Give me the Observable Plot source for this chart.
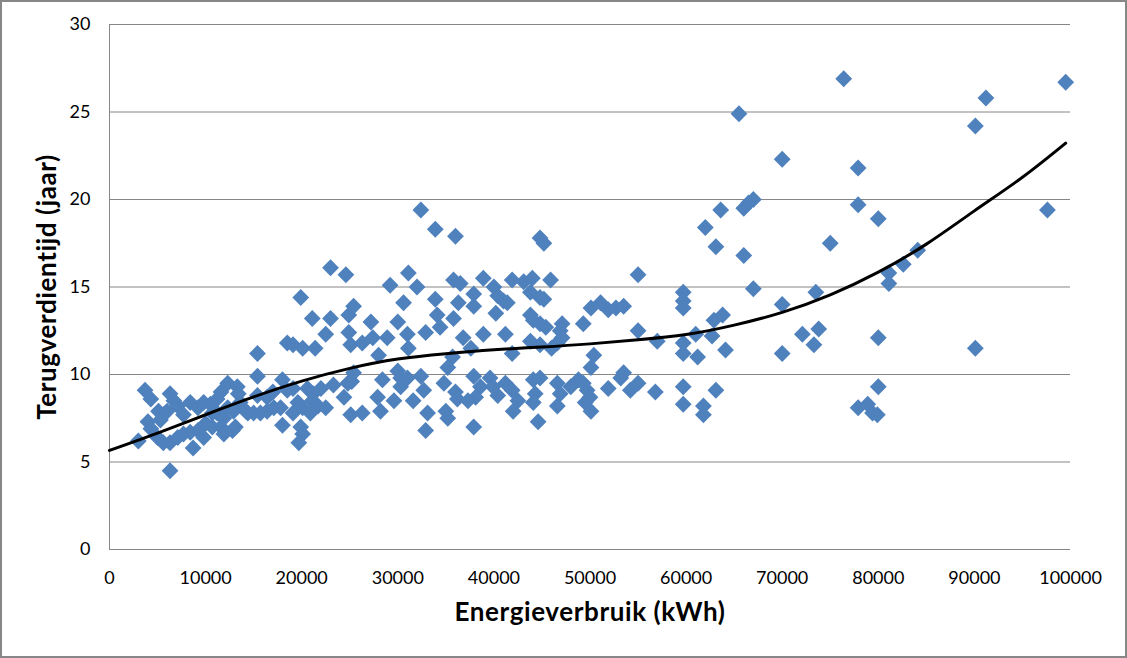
<!DOCTYPE html>
<html><head><meta charset="utf-8">
<script src="https://cdn.jsdelivr.net/npm/d3@7"></script>
<script src="https://cdn.jsdelivr.net/npm/@observablehq/plot@0.6"></script>
<style>
html,body{margin:0;padding:0;background:#fff;overflow:hidden}
#wrap{position:relative;width:1127px;height:658px}
#border{position:absolute;left:0;top:0;width:1127px;height:658px;box-sizing:border-box;border:2px solid #878787;pointer-events:none}
</style></head><body><div id="wrap"><div id="chart"></div><div id="border"></div></div>
<script>
const energy = [
3000,3700,4300,4000,4300,5100,5600,5300,6000,6300,6700,5000,5600,6300,7100,6300,7100,7700,7700,8400,8400,9200,9200,8700,9800,9800,10000,
10500,10700,10700,11200,11600,11200,11900,11600,11900,12300,12300,12900,12800,13100,13300,13400,13600,14200,14400,15000,15400,15400,15400,15700,16400,16400,17000,17100,17800,18000,18000,18500,19100,18500,19100,20100,19900,19600,20100,19100,19900,20100,19700,
20600,21200,21100,21700,20900,21400,21100,23000,23000,24600,22500,24900,25400,24900,25100,26300,27200,27400,28900,28000,29200,22000,23300,24800,24400,25400,25200,22500,25100,26300,27900,28200,28400,29600,
30000,30600,31100,32000,31000,31100,32900,33900,34100,34400,35800,36500,35800,36300,36800,37600,35700,35200,37900,37900,38900,40000,40400,40200,38900,32400,33900,36000,30000,30300,31000,30300,31600,32400,32700,33100,32900,34800,36000,36200,35000,35200,37900,38600,38100,39600,39900,40400,37900,37300,
44800,45200,41900,43100,44000,45900,43800,44800,45200,41000,41400,43800,44100,44800,45400,47100,46900,49300,50100,51100,51900,52700,53500,55000,55000,57000,41200,43800,44800,46000,46600,47100,41900,50400,50100,41200,41900,42500,42000,44100,44800,44300,44100,44600,46600,46900,46600,48000,48800,49300,49700,49500,50100,50000,51900,53200,53500,54200,55000,56800,
59700,59700,59700,59700,59700,59700,59700,65500,70000,77900,77900,63600,62000,66000,66500,67000,63100,66000,75000,67000,70000,73500,62900,63800,61000,61200,62700,64100,70000,72100,73300,73800,61800,61800,63100,77900,78900,76400,80000,80000,80000,79900,79400,
99500,91200,90100,97600,84100,82600,81100,81100,90100
];
const payback = [
6.2,9.1,8.6,7.3,6.9,7.9,7.7,7.4,7.9,8.9,8.5,6.4,6.1,6.1,6.4,4.5,8.2,7.7,6.6,6.7,8.4,8.1,6.8,5.8,8.4,6.4,7.2,
8.3,7.8,7.0,8.6,9.0,7.8,7.5,7.0,6.6,9.5,8.1,7.9,6.8,7.0,9.3,8.9,8.4,7.9,7.8,7.8,11.2,9.9,8.8,7.8,7.9,8.7,9.0,8.1,8.1,9.7,7.1,9.1,9.2,11.8,11.7,11.5,14.4,8.4,8.1,7.8,7.0,6.6,6.1,
9.2,8.9,8.5,8.2,7.8,11.5,13.2,13.2,16.1,15.7,12.3,13.4,13.9,12.4,11.7,11.8,13.0,12.1,12.1,11.1,15.1,9.2,9.4,9.5,8.7,10.1,9.6,8.1,7.7,7.8,8.7,7.9,9.7,8.5,
13.0,14.1,15.8,15.0,12.3,11.5,12.4,14.3,13.4,12.7,15.4,15.2,13.2,14.1,12.1,11.5,11.0,10.4,14.6,13.9,15.5,15.0,14.5,13.5,12.3,19.4,18.3,17.9,10.2,9.8,9.8,9.3,8.5,9.9,9.1,7.8,6.8,9.5,9.0,8.6,7.9,7.5,9.9,9.3,8.7,9.8,9.3,8.8,7.0,8.5,
17.8,17.5,15.4,15.3,15.5,15.4,14.7,14.4,14.3,14.2,14.1,13.4,13.1,12.9,12.7,12.9,12.5,12.9,13.8,14.1,13.7,13.8,13.9,15.7,12.5,11.9,12.3,11.9,11.7,11.5,11.8,12.1,11.2,11.1,10.4,9.5,9.1,8.5,7.9,9.7,9.8,8.9,8.4,7.3,9.5,8.9,8.2,9.3,9.7,9.5,9.1,8.4,7.9,8.7,9.2,9.8,10.1,9.1,9.5,9.0,
14.7,14.2,13.8,11.8,11.2,9.3,8.3,24.9,22.3,21.8,19.7,19.4,18.4,19.5,19.8,20.0,17.3,16.8,17.5,14.9,14.0,14.7,13.1,13.4,12.3,11.0,12.2,11.4,11.2,12.3,11.7,12.6,8.2,7.7,9.1,8.1,8.3,26.9,18.9,12.1,9.3,7.7,7.8,
26.7,25.8,24.2,19.4,17.1,16.3,15.8,15.2,11.5
];
const trendEnergy = [0,5000,10000,15000,20000,25000,30000,35000,40000,45000,50000,55000,60000,65000,70000,75000,80000,85000,90000,95000,99500];
const trendPayback = [5.66,6.65,7.7,8.72,9.62,10.35,10.88,11.19,11.41,11.57,11.75,11.98,12.28,12.82,13.55,14.55,15.85,17.45,19.35,21.27,23.22];
const xTicks = [0,10000,20000,30000,40000,50000,60000,70000,80000,90000,100000];
const yTicks = [0,5,10,15,20,25,30];
const xTitle = "Energieverbruik (kWh)";
const yTitle = "Terugverdientijd (jaar)";

const points = energy.map((e, i) => ({energy: e, payback: payback[i]}));
const trend = trendEnergy.map((e, i) => ({energy: e, payback: trendPayback[i]}));
const diamond = {draw(ctx, size) {
  const h = Math.sqrt(size / 2);
  ctx.moveTo(0, -h); ctx.lineTo(h, 0); ctx.lineTo(0, h); ctx.lineTo(-h, 0); ctx.closePath();
}};

const chart = Plot.plot({
  width: 1127, height: 658,
  marginLeft: 109, marginRight: 57, marginTop: 24, marginBottom: 109,
  style: {fontFamily: "Lato, 'Open Sans', sans-serif", fontSize: "18px", color: "#000", background: "transparent", overflow: "visible"},
  x: {domain: [0, 100000], label: null},
  y: {domain: [0, 30], label: null},
  marks: [
    Plot.ruleY(yTicks, {stroke: "#868686", strokeWidth: 1}),
    Plot.ruleX([0], {stroke: "#868686", strokeWidth: 1}),
    Plot.dot(points, {x: "energy", y: "payback", symbol: diamond, r: 6.7, fill: "#4F81BD", stroke: "none"}),
    Plot.line(trend, {x: "energy", y: "payback", curve: "natural", stroke: "#000", strokeWidth: 3}),
    Plot.axisX({ticks: xTicks, tickSize: 0, tickPadding: 22, tickFormat: d => String(d), fontSize: 18, label: null}),
    Plot.axisY({ticks: yTicks, tickSize: 0, tickPadding: 19, fontSize: 18, label: null}),
    Plot.text([xTitle], {frameAnchor: "bottom", textAnchor: "middle", dy: 71, text: d => d, fontWeight: "bold", fontSize: 26, fill: "#000"}),
    Plot.text([yTitle], {frameAnchor: "left", textAnchor: "middle", lineAnchor: "middle", dx: -62, rotate: -90, text: d => d, fontWeight: "bold", fontSize: 26, fill: "#000"})
  ]
});
chart.querySelectorAll("text").forEach(t => { if (t.textContent === xTitle || t.textContent === yTitle) t.style.letterSpacing = "0.6px"; });
document.getElementById("chart").appendChild(chart);
</script>
</body></html>
